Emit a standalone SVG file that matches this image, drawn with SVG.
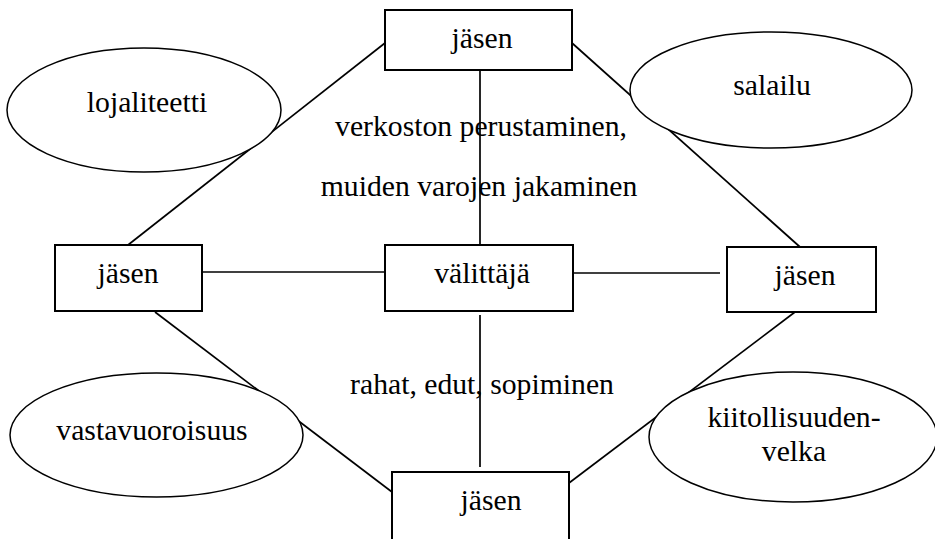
<svg xmlns="http://www.w3.org/2000/svg" width="935" height="539" viewBox="0 0 935 539">
<style>
.box{fill:#fff;stroke:#000;stroke-width:2}
.ell{fill:#fff;stroke:#000;stroke-width:1.5}
.ln{stroke:#000;stroke-width:1.7;fill:none}
.t{font-size:29.7px;fill:#000;text-anchor:middle}
</style>
<rect width="935" height="539" fill="#fff"/>
<g id="connectors">
<line class="ln" x1="385" y1="43" x2="128" y2="245"/>
<line class="ln" x1="572" y1="43" x2="800" y2="247"/>
<line class="ln" x1="155" y1="312" x2="392" y2="492"/>
<line class="ln" x1="795" y1="312" x2="569" y2="483"/>
<line class="ln" x1="480" y1="70" x2="480" y2="245"/>
<line class="ln" x1="480" y1="315" x2="480" y2="467"/>
<line class="ln" x1="202" y1="272" x2="385" y2="272"/>
<line class="ln" x1="573" y1="273" x2="720" y2="273"/>
</g>
<g font-family="'Liberation Serif', 'Times New Roman', 'DejaVu Serif', serif">
<g id="lojaliteetti">
<ellipse class="ell" cx="144" cy="110" rx="137" ry="62"/>
<text class="t" x="147" y="112">lojaliteetti</text>
</g>
<g id="salailu">
<ellipse class="ell" cx="771" cy="90" rx="141" ry="58"/>
<text class="t" x="772" y="95">salailu</text>
</g>
<g id="vastavuoroisuus">
<ellipse class="ell" cx="156.5" cy="435" rx="146.5" ry="62"/>
<text class="t" x="152" y="440">vastavuoroisuus</text>
</g>
<g id="kiitollisuudenvelka">
<ellipse class="ell" cx="793" cy="437" rx="144" ry="65"/>
<text class="t" x="794" y="427">kiitollisuuden-</text>
<text class="t" x="794" y="461">velka</text>
</g>
<g id="jasen-top">
<rect class="box" x="385" y="10" width="187" height="60"/>
<text class="t" x="482" y="48">jäsen</text>
</g>
<g id="jasen-left">
<rect class="box" x="55" y="245" width="147" height="66"/>
<text class="t" x="128" y="283">jäsen</text>
</g>
<g id="valittaja">
<rect class="box" x="385" y="245" width="188" height="66"/>
<text class="t" x="482" y="283">välittäjä</text>
</g>
<g id="jasen-right">
<rect class="box" x="727" y="247" width="149" height="65"/>
<text class="t" x="805" y="285">jäsen</text>
</g>
<g id="jasen-bottom">
<rect class="box" x="392" y="472" width="177" height="80"/>
<text class="t" x="491" y="510">jäsen</text>
</g>
<g id="labels">
<text class="t" x="481" y="136">verkoston perustaminen,</text>
<text class="t" x="479" y="196">muiden varojen jakaminen</text>
<text class="t" x="482" y="394">rahat, edut, sopiminen</text>
</g>
</g>
</svg>
